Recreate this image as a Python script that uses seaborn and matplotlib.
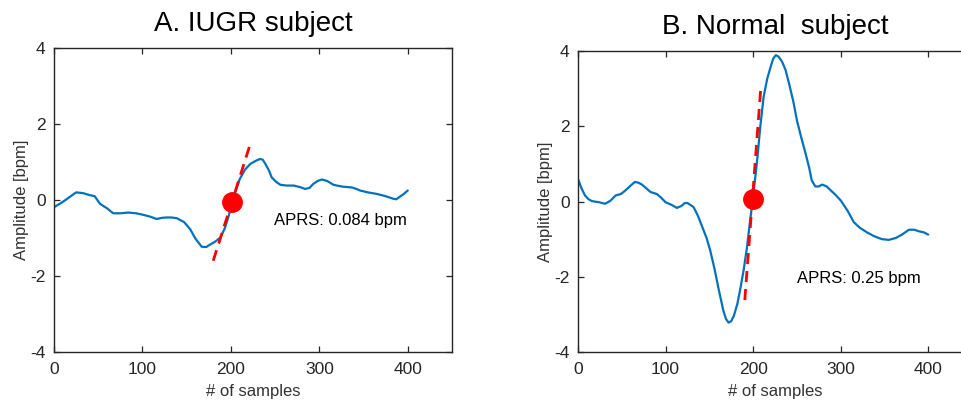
import matplotlib
matplotlib.use("Agg")
import matplotlib.pyplot as plt
import seaborn as sns
import pandas as pd

# ---- data ----
iugr_x = [0, 8, 16, 25, 33, 40, 46, 52, 60, 67, 75, 84, 93, 101, 109, 116, 122, 127, 133, 139, 147, 154,
          160, 167, 172, 176, 182, 188, 193, 197, 200, 203, 207, 210, 216, 222, 228, 233, 236, 239, 243,
          246, 251, 256, 263, 271, 278, 284, 289, 293, 298, 303, 309, 316, 322, 327, 332, 337, 342, 346,
          355, 365, 375, 384, 387, 390, 395, 400]
iugr_y = [-0.19, -0.08, 0.05, 0.2, 0.18, 0.13, 0.1, -0.1, -0.22, -0.35, -0.35, -0.33, -0.35, -0.39,
          -0.44, -0.5, -0.47, -0.46, -0.46, -0.48, -0.58, -0.77, -1.02, -1.23, -1.24, -1.18, -1.1, -0.99,
          -0.75, -0.46, -0.2, 0.07, 0.35, 0.55, 0.8, 0.95, 1.03, 1.08, 1.06, 0.95, 0.78, 0.6, 0.48, 0.4,
          0.38, 0.38, 0.34, 0.29, 0.32, 0.42, 0.5, 0.54, 0.5, 0.4, 0.37, 0.35, 0.34, 0.33, 0.29, 0.25,
          0.2, 0.16, 0.1, 0.03, 0.02, 0.07, 0.15, 0.25]

norm_x = [0, 4, 8, 12, 16, 24, 31, 37, 43, 49, 54, 60, 65, 69, 73, 78, 83, 90, 95, 100, 106, 113, 118,
          122, 125, 129, 132, 137, 142, 147, 151, 156, 161, 166, 169, 172, 175, 178, 182, 185, 189, 193,
          196, 199, 202, 205, 208, 212, 216, 220, 223, 226, 229, 233, 237, 241, 246, 250, 255, 260, 264,
          267, 271, 275, 279, 284, 288, 294, 300, 308, 315, 322, 330, 338, 347, 355, 363, 370, 378, 384,
          389, 395, 400]
norm_y = [0.6, 0.35, 0.16, 0.06, 0.01, -0.02, -0.06, 0.02, 0.16, 0.2, 0.29, 0.42, 0.52, 0.5, 0.45, 0.35,
          0.25, 0.2, 0.1, -0.02, -0.08, -0.17, -0.12, -0.04, -0.04, -0.1, -0.15, -0.38, -0.68, -0.98,
          -1.3, -1.8, -2.37, -2.9, -3.12, -3.22, -3.18, -3.04, -2.72, -2.37, -1.85, -1.22, -0.62, -0.06,
          0.55, 1.18, 1.95, 2.78, 3.25, 3.58, 3.8, 3.89, 3.85, 3.72, 3.5, 3.14, 2.65, 2.16, 1.7, 1.27,
          0.9, 0.56, 0.4, 0.4, 0.45, 0.4, 0.31, 0.18, 0.03, -0.25, -0.55, -0.7, -0.82, -0.92, -1.0, -1.02,
          -0.97, -0.88, -0.75, -0.75, -0.79, -0.82, -0.88]

iugr_dot = (201, -0.04)
iugr_tangent_x = [180, 222]
iugr_tangent_y = [-1.6, 1.48]
norm_dot = (200, 0.07)
norm_tangent_x = [190.5, 209]
norm_tangent_y = [-2.62, 3.09]

titles = ["A. IUGR subject", "B. Normal  subject"]
annotations = ["APRS: 0.084 bpm", "APRS: 0.25 bpm"]
annot_pos = [(249, -0.55), (250, -2.04)]
x_ticks = [0, 100, 200, 300, 400]
y_ticks = [-4, -2, 0, 2, 4]

# ---- style ----
sns.set_style("ticks")
plt.rcParams["font.family"] = ["Liberation Sans", "DejaVu Sans"]
plt.rcParams["axes.unicode_minus"] = False
plt.rcParams["axes.edgecolor"] = "#262626"

W, H = 961, 403
fig = plt.figure(figsize=(W / 100, H / 100), dpi=100)
ax1 = fig.add_axes([54 / W, 1 - 352 / H, 398 / W, 304 / H])
ax2 = fig.add_axes([578 / W, 1 - 352 / H, 394 / W, 301 / H])

blue = "#0072BD"
panels = [
    (ax1, iugr_x, iugr_y, iugr_dot, iugr_tangent_x, iugr_tangent_y),
    (ax2, norm_x, norm_y, norm_dot, norm_tangent_x, norm_tangent_y),
]
for i, (ax, xs, ys, dot, tx, ty) in enumerate(panels):
    df = pd.DataFrame({"x": xs, "y": ys})
    sns.lineplot(data=df, x="x", y="y", ax=ax, color=blue, linewidth=1.6, sort=False)
    ax.plot(tx, ty, color="red", linestyle=(0, (4, 2.5)), linewidth=2.0)
    ax.plot([dot[0]], [dot[1]], "o", color="red", markersize=14)
    ax.text(annot_pos[i][0], annot_pos[i][1], annotations[i], fontsize=12, ha="left",
            va="center", color="black")
    ax.set_xlim(0, 450)
    ax.set_ylim(-4, 4)
    ax.set_xticks(x_ticks)
    ax.set_yticks(y_ticks)
    ax.tick_params(direction="in", length=4, width=0.9, labelsize=12.5, top=True, right=True,
                   colors="#262626")
    ax.tick_params(axis="x", pad=7)
    ax.tick_params(axis="y", pad=6)
    for s in ax.spines.values():
        s.set_visible(True)
        s.set_linewidth(1.0)
    ax.set_xlabel("# of samples", fontsize=12, color="#333333", labelpad=5)
    ax.set_ylabel("Amplitude [bpm]", fontsize=12, color="#333333", labelpad=1)
    ax.set_title(titles[i], fontsize=20, color="black", pad=12)

fig.savefig("out.png", dpi=100)
